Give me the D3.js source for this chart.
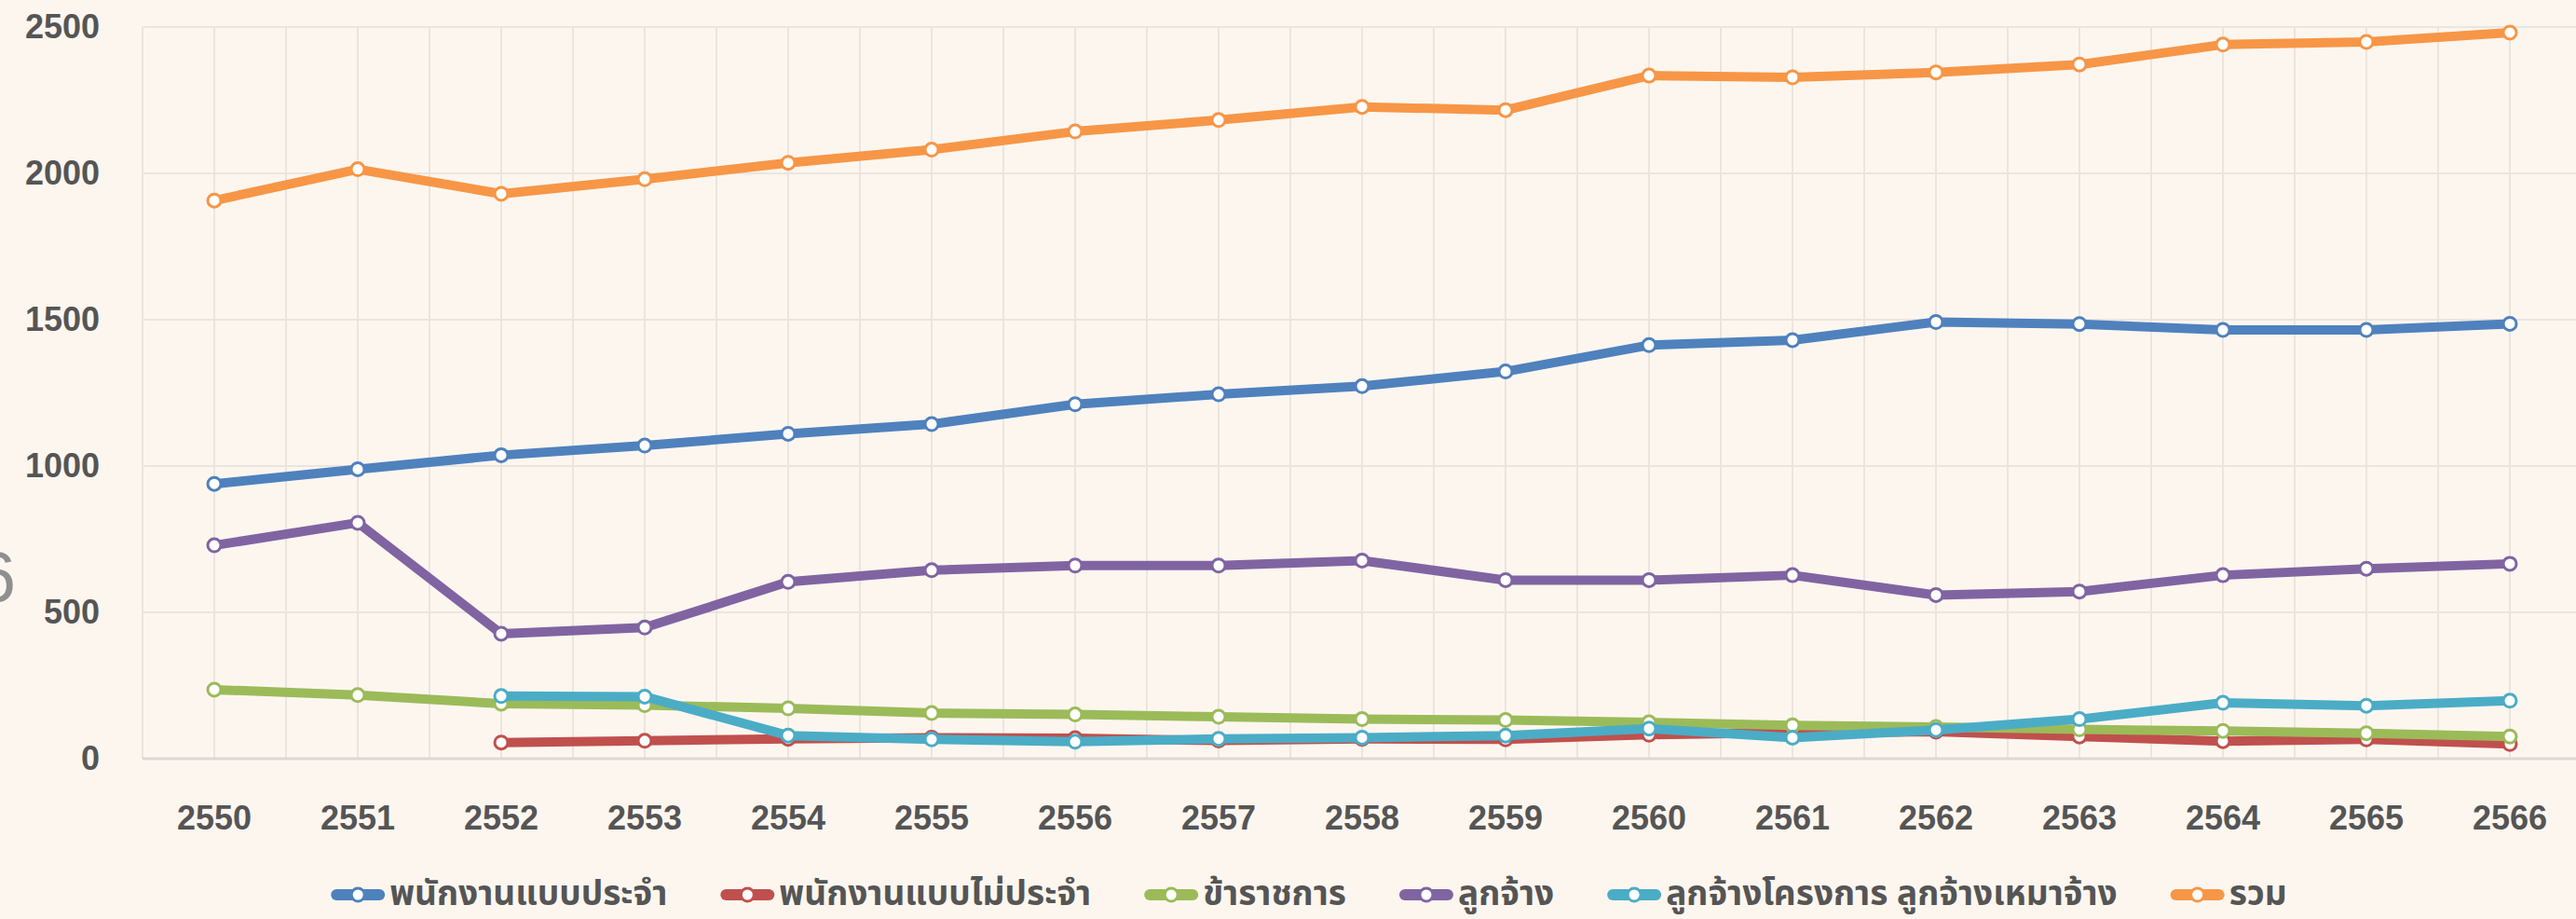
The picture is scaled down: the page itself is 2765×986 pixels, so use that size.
<!DOCTYPE html>
<html>
<head>
<meta charset="utf-8">
<script src="https://cdn.jsdelivr.net/npm/d3@7"></script>
<style>
  html, body { margin: 0; padding: 0; background: #fdf6ef; overflow: hidden; }
  svg { display: block; }
</style>
</head>
<body>
<div id="chart"></div>
<script>
// Chart data
const years = ['2550', '2551', '2552', '2553', '2554', '2555', '2556', '2557', '2558',
  '2559', '2560', '2561', '2562', '2563', '2564', '2565', '2566'];
const yTicks = [0, 500, 1000, 1500, 2000, 2500];

const seriesNames = ['พนักงานแบบประจำ', 'พนักงานแบบไม่ประจำ', 'ข้าราชการ', 'ลูกจ้าง',
  'ลูกจ้างโครงการ ลูกจ้างเหมาจ้าง', 'รวม'];
const seriesColors = ['#4f81bd', '#c0504d', '#9bbb59', '#8064a2', '#4bacc6', '#f79646'];

const permanentStaff = [939, 989, 1037, 1070, 1110, 1143, 1211, 1245, 1273, 1323, 1413, 1430, 1492, 1485, 1465, 1465, 1486];
const temporaryStaff = [null, null, 55, 61, 68, 72, 70, 62, 68, 66, 82, 89, 92, 76, 60, 66, 50];
const civilServants = [236, 217, 188, 183, 172, 156, 151, 143, 135, 132, 124, 114, 108, 100, 95, 87, 76];
const employees = [729, 806, 427, 448, 604, 644, 660, 660, 677, 610, 610, 627, 559, 571, 627, 649, 666];
const contractEmployees = [null, null, 214, 212, 79, 66, 58, 68, 72, 79, 103, 72, 98, 135, 191, 181, 198];
const totalStaff = [1907, 2014, 1930, 1980, 2036, 2081, 2143, 2182, 2227, 2216, 2334, 2328, 2345, 2372, 2440, 2449, 2481];

const seriesValues = [permanentStaff, temporaryStaff, civilServants, employees, contractEmployees, totalStaff];

// Layout
const width = 2765;
const height = 986;
const plotLeft = 153;
const bandW = 154;
const yBottom = 814;
const yTop = 29;
const font = '"Liberation Sans", Arial, Helvetica, sans-serif';
const thaiFont = '"Noto Sans Thai", "Noto Sans", "DejaVu Sans", sans-serif';

const svg = d3.select('#chart')
  .append('svg')
  .attr('width', width)
  .attr('height', height);

svg.append('rect')
  .attr('width', width)
  .attr('height', height)
  .attr('fill', '#fdf6ef');

const x = d3.scaleBand()
  .domain(years)
  .range([plotLeft, plotLeft + bandW * years.length])
  .paddingInner(0)
  .paddingOuter(0);

const cx = d => x(d) + x.bandwidth() / 2;

const y = d3.scaleLinear()
  .domain([0, 2500])
  .range([yBottom, yTop]);

// Grid: vertical lines at band edges and centres
const grid = svg.append('g').attr('class', 'grid');
const vLines = [];
years.forEach(yr => { vLines.push(x(yr)); vLines.push(cx(yr)); });
vLines.push(x.range()[1]);

grid.selectAll('.vgrid')
  .data(vLines)
  .enter()
  .append('line')
  .attr('x1', d => d)
  .attr('x2', d => d)
  .attr('y1', y(2500))
  .attr('y2', y(0))
  .attr('stroke', '#ebe5df')
  .attr('stroke-width', 2);

grid.selectAll('.hgrid')
  .data(yTicks.filter(t => t > 0))
  .enter()
  .append('line')
  .attr('x1', plotLeft)
  .attr('x2', x.range()[1])
  .attr('y1', d => y(d))
  .attr('y2', d => y(d))
  .attr('stroke', '#ebe5df')
  .attr('stroke-width', 2);

// Baseline
svg.append('line')
  .attr('x1', plotLeft)
  .attr('x2', x.range()[1])
  .attr('y1', y(0))
  .attr('y2', y(0))
  .attr('stroke', '#dcd8d4')
  .attr('stroke-width', 3);

// Y axis labels
const yAxis = svg.append('g')
  .attr('transform', 'translate(107,0)')
  .call(d3.axisLeft(y).tickValues(yTicks).tickFormat(d3.format('d')).tickSize(0).tickPadding(0));
yAxis.select('.domain').remove();
yAxis.selectAll('text')
  .attr('dy', '0.33em')
  .style('font-family', font)
  .style('font-size', '36px')
  .style('font-weight', 'bold')
  .style('fill', '#555555');

// X axis labels
const xAxis = svg.append('g')
  .attr('transform', 'translate(0,' + 864 + ')')
  .call(d3.axisBottom(x).tickSize(0).tickPadding(0));
xAxis.select('.domain').remove();
xAxis.selectAll('text')
  .attr('dy', '0.71em')
  .style('font-family', font)
  .style('font-size', '36px')
  .style('font-weight', 'bold')
  .style('fill', '#555555');

// Lines and markers
const line = d3.line()
  .defined(d => d.v != null)
  .x(d => cx(d.year))
  .y(d => y(d.v));

seriesValues.forEach((vals, i) => {
  const pts = years.map((yr, j) => ({ year: yr, v: vals[j] }));
  const g = svg.append('g').attr('class', 'series');

  g.append('path')
    .datum(pts)
    .attr('fill', 'none')
    .attr('stroke', seriesColors[i])
    .attr('stroke-width', 10)
    .attr('stroke-linejoin', 'round')
    .attr('d', line);

  g.selectAll('circle')
    .data(pts.filter(d => d.v != null))
    .enter()
    .append('circle')
    .attr('cx', d => cx(d.year))
    .attr('cy', d => y(d.v))
    .attr('r', 7)
    .attr('fill', '#ffffff')
    .attr('stroke', seriesColors[i])
    .attr('stroke-width', 3);
});

// Cut-off glyph on the left edge (as in the source image)
svg.append('text')
  .attr('x', 17)
  .attr('y', 645)
  .attr('text-anchor', 'end')
  .style('font-family', font)
  .style('font-size', '76px')
  .style('fill', '#8f8f8f')
  .text('6');

// Legend
const legendY = 960;
const markerW = 58;
const markerGap = 5;
const itemGap = 57;

const legend = svg.append('g').attr('class', 'legend');
const items = legend.selectAll('.legend-item')
  .data(seriesNames)
  .enter()
  .append('g')
  .attr('class', 'legend-item');

items.append('line')
  .attr('x1', 6)
  .attr('x2', markerW - 6)
  .attr('y1', legendY)
  .attr('y2', legendY)
  .attr('stroke', (d, i) => seriesColors[i])
  .attr('stroke-width', 12)
  .attr('stroke-linecap', 'round');

items.append('circle')
  .attr('cx', markerW / 2)
  .attr('cy', legendY)
  .attr('r', 7)
  .attr('fill', '#ffffff')
  .attr('stroke', (d, i) => seriesColors[i])
  .attr('stroke-width', 3);

items.append('text')
  .attr('x', markerW + markerGap)
  .attr('y', legendY + 11)
  .style('font-family', thaiFont)
  .style('font-size', '37px')
  .style('font-weight', 'bold')
  .style('fill', '#555555')
  .text(d => d);

// Position items from measured text widths, centred under the plot
const widths = [];
items.select('text').each(function() { widths.push(this.getComputedTextLength()); });
const total = d3.sum(widths) + seriesNames.length * (markerW + markerGap) + (seriesNames.length - 1) * itemGap;
let cursor = 1405 - total / 2;
items.attr('transform', (d, i) => {
  const t = 'translate(' + cursor + ',0)';
  cursor += markerW + markerGap + widths[i] + itemGap;
  return t;
});
</script>
</body>
</html>
